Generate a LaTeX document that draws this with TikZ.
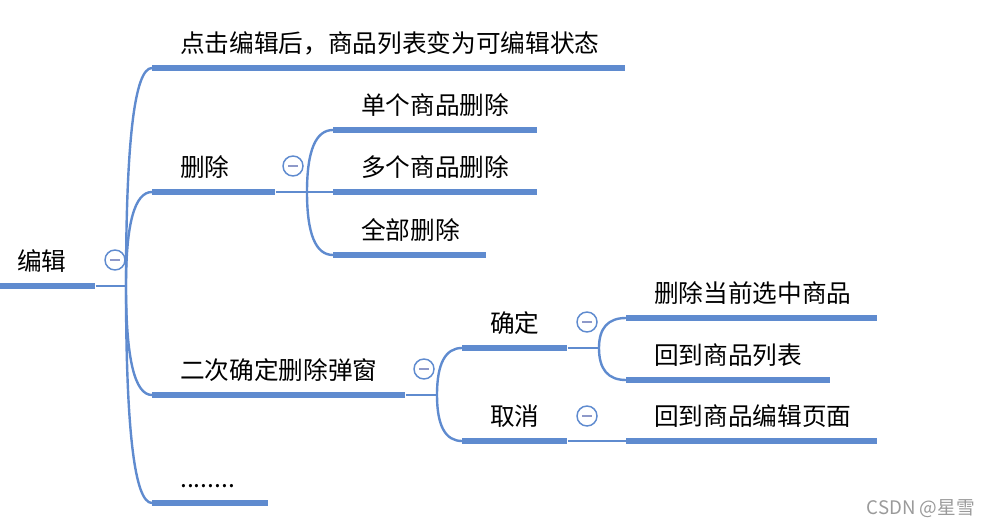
\documentclass[tikz,border=0pt]{standalone}
\usepackage{fontspec}
\setmainfont{Noto Sans CJK SC}
\usetikzlibrary{positioning,calc}

\definecolor{mapblue}{HTML}{5F8BCF}
\definecolor{minusgray}{HTML}{8E99C9}
\definecolor{markgray}{HTML}{9A9A9A}

\tikzset{
  bar/.style={rectangle, fill=mapblue, inner sep=0pt, minimum height=4.5pt, anchor=west, minimum width=#1},
  topictext/.style={anchor=base west, inner sep=0pt, xshift=21pt, yshift=9pt, font=\fontsize{18.5}{20}\selectfont},
  link/.style={draw=mapblue, line width=1.5pt},
  branch/.style={draw=mapblue, line width=1.8pt},
  tree/.style={to path={.. controls ($(\tikztostart)!0.667!(\tikztostart |- \tikztotarget)$)
    and ($(\tikztotarget)!0.667!(\tikztostart |- \tikztotarget)$) .. (\tikztotarget)}},
  fold/.style={circle, draw=mapblue, line width=1.1pt, fill=white, minimum size=15pt, inner sep=0pt,
    path picture={\draw[minusgray, line width=1.3pt] ([xshift=4pt]path picture bounding box.west) -- ([xshift=-4pt]path picture bounding box.east);}},
}

\begin{document}
\begin{tikzpicture}[x=0.75pt,y=-0.75pt]
    \useasboundingbox (0,0) rectangle (990,528);

    % Root
    \node[bar=71.25pt, label={[topictext, xshift=-8.25pt]north west:编辑}] (root) at (0,286) {};
    \coordinate (rootj) at (126,286);

    % First level
    \node[bar=354.75pt, label={[topictext]north west:点击编辑后，商品列表变为可编辑状态}] (edit) at (152,68) {};
    \node[bar=92.25pt, label={[topictext]north west:删除}] (del) at (152,192) {};
    \node[bar=189.75pt, label={[topictext]north west:二次确定删除弹窗}] (popup) at (152,395) {};
    \node[bar=87pt, label={[topictext]north west:........}] (more) at (152,503) {};

    % Delete options
    \coordinate (delj) at (307,192);
    \node[bar=153pt, label={[topictext]north west:单个商品删除}] (delone) at (333,130) {};
    \node[bar=153pt, label={[topictext]north west:多个商品删除}] (delmany) at (333,192) {};
    \node[bar=114.75pt, label={[topictext]north west:全部删除}] (delall) at (333,255) {};

    % Popup buttons
    \coordinate (popupj) at (437,395);
    \node[bar=78.75pt, label={[topictext]north west:确定}] (ok) at (462,348) {};
    \node[bar=78.75pt, label={[topictext]north west:取消}] (cancel) at (462,441) {};

    % Results
    \coordinate (okj) at (599,348);
    \node[bar=188.25pt, label={[topictext]north west:删除当前选中商品}] (okdel) at (626,318) {};
    \node[bar=153pt, label={[topictext]north west:回到商品列表}] (okback) at (626,380) {};
    \node[bar=188.25pt, label={[topictext]north west:回到商品编辑页面}] (cancelback) at (626,441) {};

    % Connectors
    \draw[link] (root.east) -- (rootj);
    \draw[branch] (rootj) to[tree] (edit.west);
    \draw[branch] (rootj) to[tree] (del.west);
    \draw[branch] (rootj) to[tree] (popup.west);
    \draw[branch] (rootj) to[tree] (more.west);

    \draw[link] (del.east) -- (delj);
    \draw[branch] (delj) to[tree] (delone.west);
    \draw[branch] (delj) -- (delmany.west);
    \draw[branch] (delj) to[tree] (delall.west);

    \draw[link] (popup.east) -- (popupj);
    \draw[branch] (popupj) to[tree] (ok.west);
    \draw[branch] (popupj) to[tree] (cancel.west);

    \draw[link] (ok.east) -- (okj);
    \draw[branch] (okj) to[tree] (okdel.west);
    \draw[branch] (okj) to[tree] (okback.west);
    \draw[link] (cancel.east) -- (cancelback.west);

    % Fold buttons
    \node[fold] (rootfold) at (115,260) {};
    \node[fold] (delfold) at (293,166) {};
    \node[fold] (popupfold) at (424,369) {};
    \node[fold] (okfold) at (587,322) {};
    \node[fold] (cancelfold) at (587,416) {};

    % Watermark
    \node[anchor=east, inner sep=0pt, text=markgray, font=\fontsize{14}{16}\selectfont] (mark) at (975,509) {CSDN @星雪};
\end{tikzpicture}
\end{document}
